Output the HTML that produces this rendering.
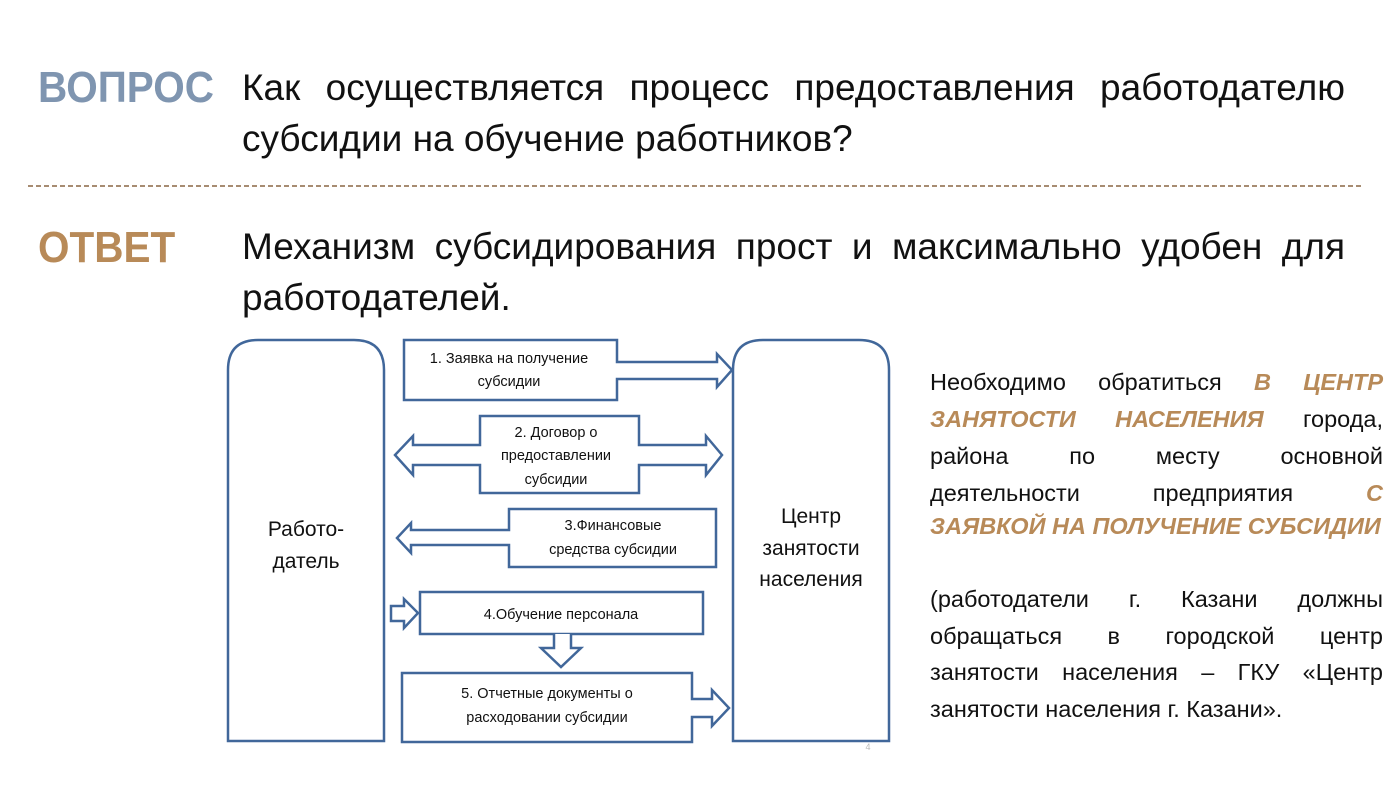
<!DOCTYPE html>
<html><head><meta charset="utf-8"><style>
body{margin:0;width:1393px;height:797px;background:#fff;position:relative;overflow:hidden;font-family:"Liberation Sans","DejaVu Sans",sans-serif;}
.ab{position:absolute;}
.lab{font-weight:bold;font-size:44px;transform:scaleX(0.92);transform-origin:0 0;}
.jl{position:absolute;text-align:justify;text-align-last:justify;white-space:nowrap;}
.q{font-size:37px;color:#111;font-weight:300;}
.r{font-size:23.5px;color:#111;left:930px;width:453px;height:37px;line-height:37px;}
.r span.h{color:#b88a58;font-weight:bold;font-style:italic;}
</style></head><body>
<div class="ab lab" style="left:38px;top:63px;color:#7f95b0;">ВОПРОС</div>
<div class="jl q" style="left:242px;top:64px;width:1103px;line-height:48px;">Как осуществляется процесс предоставления работодателю</div>
<div class="ab q" style="left:242px;top:115px;line-height:48px;white-space:nowrap;">субсидии на обучение работников?</div>
<svg class="ab" style="left:28px;top:184px" width="1334" height="4"><line x1="0" y1="2" x2="1334" y2="2" stroke="#8a6644" stroke-width="1.5" stroke-dasharray="5,3"/></svg>
<div class="ab lab" style="left:38px;top:223px;color:#b88a58;">ОТВЕТ</div>
<div class="jl q" style="left:242px;top:223px;width:1103px;line-height:48px;">Механизм субсидирования прост и максимально удобен для</div>
<div class="ab q" style="left:242px;top:274px;line-height:48px;">работодателей.</div>

<div class="jl r" style="top:364px;">Необходимо обратиться <span class="h">В ЦЕНТР</span></div>
<div class="jl r" style="top:401px;"><span class="h">ЗАНЯТОСТИ НАСЕЛЕНИЯ</span> города,</div>
<div class="jl r" style="top:438px;">района по месту основной</div>
<div class="jl r" style="top:475px;">деятельности предприятия <span class="h">С</span></div>
<div class="ab r" style="top:508px;white-space:nowrap;"><span class="h">ЗАЯВКОЙ НА ПОЛУЧЕНИЕ СУБСИДИИ</span></div>
<div class="jl r" style="top:581px;">(работодатели г. Казани должны</div>
<div class="jl r" style="top:618px;">обращаться в городской центр</div>
<div class="jl r" style="top:654px;">занятости населения – ГКУ «Центр</div>
<div class="ab r" style="top:691px;white-space:nowrap;">занятости населения г. Казани».</div>

<svg class="ab" style="left:0;top:0" width="1393" height="797">
<g fill="#fff" stroke="#41679a" stroke-width="2.5" stroke-linejoin="miter">
<path d="M228 741 V370 Q228 340 258 340 H354 Q384 340 384 370 V741 Z"/>
<path d="M733 741 V370 Q733 340 763 340 H859 Q889 340 889 370 V741 Z"/>
<path d="M404 340 H617 V362 H717 V354 L732 370 L717 387 V379 H617 V400 H404 Z"/>
<path d="M480 416 H639 V445 H706 V436 L722 455 L706 475 V465 H639 V493 H480 V465 H413 V475 L395 455 L413 436 V445 H480 Z"/>
<path d="M509 509 H716 V567 H509 V545 H411 V553 L397 538 L411 523 V530 H509 Z"/>
<rect x="420" y="592" width="283" height="42"/>
<path d="M391 606 H404 V599 L418 613 L404 628 V621 H391 Z"/>
<path d="M554 634 V648 H541 L561 667 L581 648 H571 V634"/>
<path d="M402 673 H692 V699 H712 V690 L729 708 L712 726 V717 H692 V742 H402 Z"/>
</g>
<g font-family="Liberation Sans, sans-serif" fill="#111" text-anchor="middle">
<g font-size="14.5">
<text x="509" y="363">1. Заявка на получение</text>
<text x="509" y="386">субсидии</text>
<text x="556" y="437">2. Договор о</text>
<text x="556" y="460">предоставлении</text>
<text x="556" y="484">субсидии</text>
<text x="613" y="530">3.Финансовые</text>
<text x="613" y="554">средства субсидии</text>
<text x="561" y="619">4.Обучение персонала</text>
<text x="547" y="698">5. Отчетные документы о</text>
<text x="547" y="722">расходовании субсидии</text>
</g>
<g font-size="21">
<text x="306" y="536">Работо-</text>
<text x="306" y="568">датель</text>
<text x="811" y="523">Центр</text>
<text x="811" y="555">занятости</text>
<text x="811" y="586">населения</text>
</g>
<text x="868" y="750" font-size="9" fill="#bbb">4</text>
</g>
</svg>
</body></html>
